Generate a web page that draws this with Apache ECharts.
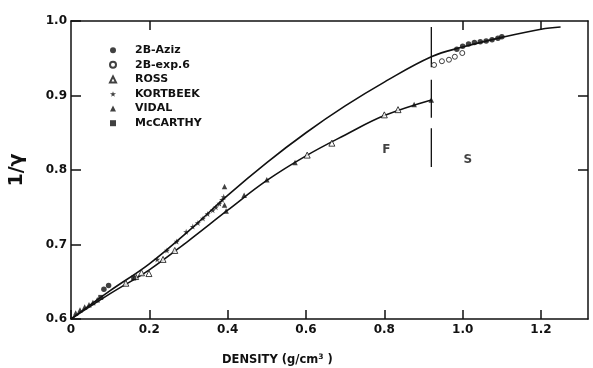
<!DOCTYPE html>
<html>
<head>
<meta charset="utf-8">
<script src="https://cdn.jsdelivr.net/npm/echarts@6/dist/echarts.min.js"></script>
<style>
html,body{margin:0;padding:0;background:#fff;}
#chart{width:593px;height:368px;}
</style>
</head>
<body>
<div id="chart"></div>
<script>
// ---- data ----
var xTicks = [0, 0.2, 0.4, 0.6, 0.8, 1.0, 1.2];
var yTicks = [0.6, 0.7, 0.8, 0.9, 1.0];
var topTicks = [0.2, 1.0, 1.2];
var rightTicks = [0.8, 0.9];

// solid curves (x, 1/gamma)
var upperCurve = [[0,0.6],[0.1,0.638],[0.2,0.674],[0.3,0.718],[0.4,0.766],[0.5,0.81],[0.6,0.85],[0.7,0.886],[0.8,0.918],[0.92,0.952],[1.0,0.965],[1.1,0.978],[1.2,0.989],[1.25,0.992]];
var lowerCurve = [[0,0.6],[0.1,0.634],[0.2,0.666],[0.3,0.705],[0.4,0.746],[0.5,0.786],[0.6,0.819],[0.7,0.847],[0.8,0.873],[0.92,0.894]];

var aziz = [[0.084,0.640],[0.096,0.645],[0.985,0.962],[1.0,0.966],[1.015,0.969],[1.03,0.971],[1.045,0.972],[1.06,0.973],[1.075,0.975],[1.09,0.977],[1.10,0.979]];
var exp6 = [[0.927,0.941],[0.947,0.946],[0.965,0.948],[0.98,0.952],[0.999,0.957]];
var ross = [[0.14,0.648],[0.165,0.657],[0.18,0.662],[0.199,0.661],[0.235,0.68],[0.265,0.692],[0.603,0.820],[0.666,0.836],[0.80,0.874],[0.835,0.881]];
var kortbeek = [[0.294,0.717],[0.311,0.724],[0.324,0.729],[0.337,0.735],[0.349,0.741],[0.362,0.746],[0.370,0.750],[0.379,0.755],[0.386,0.760],[0.390,0.764],[0.22,0.680],[0.245,0.692],[0.27,0.704]];
var vidal = [[0.012,0.608],[0.023,0.612],[0.035,0.616],[0.046,0.619],[0.056,0.622],[0.067,0.626],[0.392,0.778],[0.392,0.753],[0.396,0.745],[0.442,0.766],[0.500,0.787],[0.572,0.810],[0.876,0.888],[0.92,0.894]];
var mccarthy = [[0.076,0.629],[0.16,0.655]];

var dividerX = 0.92;
var dividerSegments = [[0.992,0.938],[0.921,0.870],[0.856,0.804]];
var regionLabels = [{name:'F', value:[0.805,0.827]},{name:'S', value:[1.013,0.813]}];

// ---- chart ----
var FONT = '"DejaVu Sans", "Liberation Sans", Arial, sans-serif';
var INK = '#111';
var star = 'path://M50,0 L61,35 L98,35 L68,57 L79,91 L50,70 L21,91 L32,57 L2,35 L39,35 Z';

var series = [
  {type:'line', name:'upper', data:upperCurve, smooth:0.4, showSymbol:false, symbol:'none', lineStyle:{color:INK,width:1.6}, z:2, silent:true},
  {type:'line', name:'lower', data:lowerCurve, smooth:0.4, showSymbol:false, symbol:'none', lineStyle:{color:INK,width:1.6}, z:2, silent:true},
  {type:'scatter', name:'2B-Aziz', data:aziz, symbol:'circle', symbolSize:5.5, itemStyle:{color:INK}, z:5},
  {type:'scatter', name:'2B-exp.6', data:exp6, symbol:'circle', symbolSize:5, itemStyle:{color:'#fff', borderColor:INK, borderWidth:1}, z:5},
  {type:'scatter', name:'ROSS', data:ross, symbol:'triangle', symbolSize:6, itemStyle:{color:'#fff', borderColor:INK, borderWidth:1}, z:5},
  {type:'scatter', name:'KORTBEEK', data:kortbeek, symbol:star, symbolSize:6, itemStyle:{color:INK}, z:5},
  {type:'scatter', name:'VIDAL', data:vidal, symbol:'triangle', symbolSize:5.5, itemStyle:{color:INK}, z:5},
  {type:'scatter', name:'McCARTHY', data:mccarthy, symbol:'rect', symbolSize:5, itemStyle:{color:INK}, z:5},
  {type:'scatter', name:'labels', data:regionLabels, symbolSize:0, silent:true,
   label:{show:true, position:'inside', formatter:'{b}', color:INK, fontFamily:FONT, fontWeight:'bold', fontSize:12}}
];
dividerSegments.forEach(function(seg, i){
  series.push({type:'line', name:'div'+i, data:[[dividerX,seg[0]],[dividerX,seg[1]]], symbol:'none', lineStyle:{color:INK,width:1.3}, z:3, silent:true});
});

var chart = echarts.init(document.getElementById('chart'), null, {renderer:'canvas'});
chart.setOption({
  animation:false,
  backgroundColor:'#fff',
  grid:{left:67, top:21, right:5, bottom:49, containLabel:false},
  legend:{
    data:['2B-Aziz','2B-exp.6','ROSS','KORTBEEK','VIDAL','McCARTHY'],
    orient:'vertical', left:104, top:39, itemWidth:6, itemHeight:6, itemGap:2.2,
    selectedMode:false,
    formatter:function(n){return '{g|}{t|' + n + '}';},
    textStyle:{color:INK, fontFamily:FONT, fontWeight:'bold', fontSize:11, lineHeight:12.4,
      rich:{g:{width:14}, t:{color:INK, fontFamily:FONT, fontWeight:'bold', fontSize:11, lineHeight:12.4}}}
  },
  xAxis:[
    {type:'value', min:0, max:1.32, interval:0.2, position:'bottom',
     axisLine:{show:true, onZero:false, lineStyle:{color:INK,width:1.5}},
     axisTick:{show:true, inside:true, length:9, customValues:xTicks, lineStyle:{color:INK,width:1.5}},
     axisLabel:{customValues:xTicks, margin:5, color:INK, fontFamily:FONT, fontWeight:'bold', fontSize:12,
       formatter:function(v){return v.toFixed(1).replace(/^0\.0$/,'0');}},
     splitLine:{show:false}},
    {type:'value', min:0, max:1.32, interval:0.2, position:'top',
     axisLine:{show:true, onZero:false, lineStyle:{color:INK,width:1.5}},
     axisTick:{show:true, inside:true, length:9, customValues:topTicks, lineStyle:{color:INK,width:1.5}},
     axisLabel:{show:false}, splitLine:{show:false}}
  ],
  yAxis:[
    {type:'value', min:0.6, max:1.0, interval:0.1, position:'left',
     name:'1/γ', nameLocation:'middle', nameGap:44, nameRotate:90,
     nameTextStyle:{color:INK, fontFamily:FONT, fontWeight:'bold', fontSize:19},
     axisLine:{show:true, onZero:false, lineStyle:{color:INK,width:1.5}},
     axisTick:{show:true, inside:true, length:10, customValues:yTicks, lineStyle:{color:INK,width:1.5}},
     axisLabel:{customValues:yTicks, margin:4, color:INK, fontFamily:FONT, fontWeight:'bold', fontSize:12,
       formatter:function(v){return v.toFixed(1);}},
     splitLine:{show:false}},
    {type:'value', min:0.6, max:1.0, interval:0.1, position:'right',
     axisLine:{show:true, onZero:false, lineStyle:{color:INK,width:1.5}},
     axisTick:{show:true, inside:true, length:10, customValues:rightTicks, lineStyle:{color:INK,width:1.5}},
     axisLabel:{show:false}, splitLine:{show:false}}
  ],
  graphic:[
    {type:'text', left:222, top:353, style:{
      text:'DENSITY (g/cm{s|3} )', fill:INK, font:'bold 11.5px "DejaVu Sans", "Liberation Sans", Arial, sans-serif',
      rich:{s:{fontSize:7.5, fontWeight:'bold', fontFamily:FONT, verticalAlign:'top', padding:[0,0,6,0]}}
    }}
  ],
  series:series
});
</script>
</body>
</html>
